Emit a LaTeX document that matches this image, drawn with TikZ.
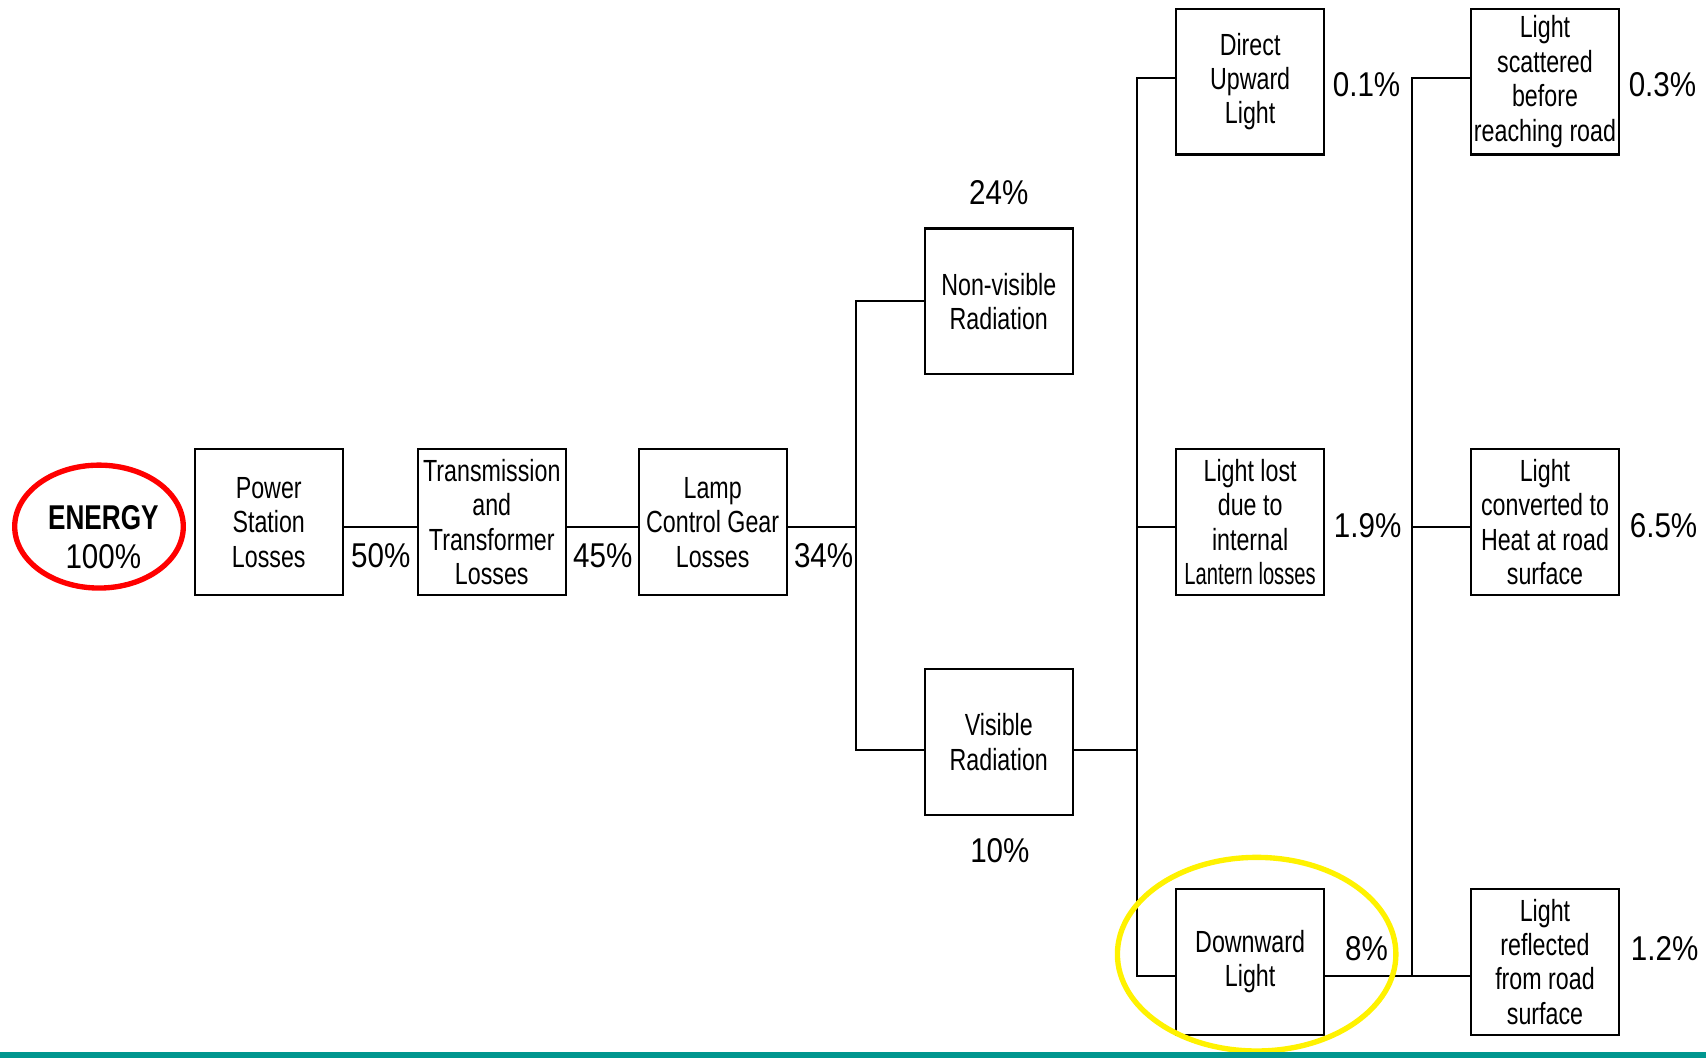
\documentclass[tikz,border=0pt]{standalone}
\usepackage{fontspec}
\setmainfont{Liberation Sans}[FakeStretch=0.76]
\newfontfamily\narrowfont{Liberation Sans}[FakeStretch=0.66]
\newfontfamily\pctfont{Liberation Sans}[FakeStretch=0.86]
\usetikzlibrary{shapes.geometric}
\definecolor{tealbar}{RGB}{0,150,143}

\begin{document}
\begin{tikzpicture}[
x=0.02cm, y=-0.02cm,
lossbox/.style={rectangle, draw=black, line width=1.1pt, minimum width=2.72cm, minimum height=2.68cm, inner sep=1pt, align=center, font=\fontsize{16}{18}\selectfont},
pct/.style={inner sep=0pt, font=\pctfont\fontsize{18}{20}\selectfont},
ring/.style={ellipse, line width=2.8pt, inner sep=0pt},
wire/.style={line width=1.1pt}
]
    \useasboundingbox (0,0) rectangle (1568,972);

    \node[ring, draw=red, minimum width=3.1cm, minimum height=2.26cm] (energy) at (91,484){};
    \node[inner sep=0pt, align=center, font=\fontsize{18}{20.5}\selectfont] (energytext) at (95,494){\textbf{ENERGY}\\{\pctfont 100\%}};

    \node[lossbox] (power) at (247,480){Power\\Station\\Losses};
    \node[lossbox] (trans) at (452,480){Transmission\\and\\Transformer\\Losses};
    \node[lossbox] (lamp) at (655,480){Lamp\\Control Gear\\Losses};

    \node[lossbox] (nonvis) at (918,277){Non-visible\\Radiation};
    \node[lossbox] (vis) at (918,682){Visible\\Radiation};

    \node[lossbox] (upward) at (1149,75){Direct\\Upward\\Light};
    \node[lossbox] (lantern) at (1149,480){Light lost\\due to\\internal\\{\narrowfont Lantern losses}};
    \node[lossbox] (downward) at (1149,884){Downward\\Light};

    \node[lossbox] (scatter) at (1420,75){Light\\scattered\\before\\reaching road};
    \node[lossbox] (heat) at (1420,480){Light\\converted to\\Heat at road\\surface};
    \node[lossbox] (reflect) at (1420,884){Light\\reflected\\from road\\surface};

    \node[pct] (p50) at (350,511){50\%};
    \node[pct] (p45) at (554,511){45\%};
    \node[pct] (p34) at (757,511){34\%};
    \node[pct] (p24) at (918,177){24\%};
    \node[pct] (p10) at (919,782){10\%};
    \node[pct] (p01) at (1256,78){0.1\%};
    \node[pct] (p19) at (1257,483){1.9\%};
    \node[pct] (p8) at (1256,872){8\%};
    \node[pct] (p03) at (1528,78){0.3\%};
    \node[pct] (p65) at (1529,483){6.5\%};
    \node[pct] (p12) at (1530,872){1.2\%};

    \coordinate (split1) at (787,484);
    \coordinate (split2) at (1045,689);
    \coordinate (split3) at (1298,897);

    \draw[wire] (power.east |- split1) edge (trans.west |- split1);
    \draw[wire] (trans.east |- split1) edge (lamp.west |- split1);
    \draw[wire] (lamp.east |- split1) -- (split1);
    \draw[wire] (nonvis.west) -| (split1);
    \draw[wire] (vis.west |- split2) -| (split1);

    \draw[wire] (vis.east |- split2) -- (split2);
    \draw[wire] (upward.west |- 0,72) -| (split2);
    \draw[wire] (downward.west |- split3) -| (split2);
    \draw[wire] (lantern.west |- split1) -- (split1 -| split2);

    \draw[wire] (downward.east |- split3) -- (reflect.west |- split3);
    \draw[wire] (scatter.west |- 0,72) -| (split3);
    \draw[wire] (heat.west |- split1) -- (split1 -| split3);

    \node[ring, draw=yellow, minimum width=5.12cm, minimum height=3.56cm] (spot) at (1155,877){};

    \fill[tealbar] (0,967) rectangle (1568,972);
\end{tikzpicture}
\end{document}
